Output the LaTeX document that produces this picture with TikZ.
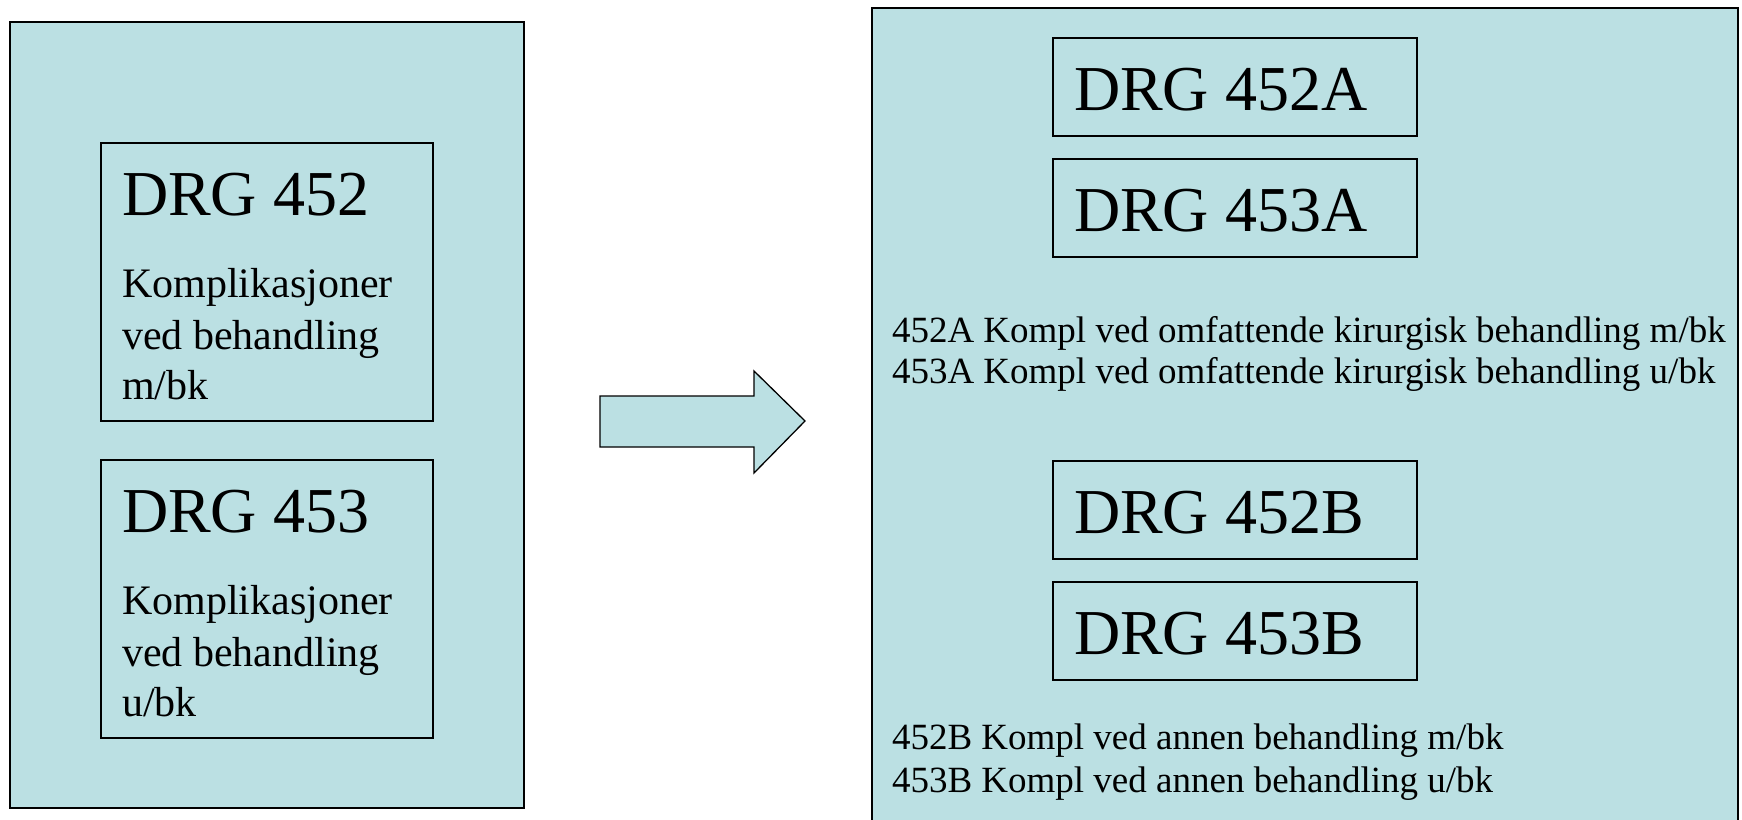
\documentclass[tikz,border=0pt]{standalone}
\usepackage{fontspec}
\setmainfont{Liberation Serif}
\definecolor{boxfill}{RGB}{187,224,227}
\tikzset{
  panel/.style={draw=black, fill=boxfill, line width=1.5pt, inner sep=0pt, outer sep=0pt, anchor=north west},
  drgbox/.style={draw=black, fill=boxfill, line width=1.3pt, inner sep=0pt, outer sep=0pt, anchor=north west},
  drgtext/.style={font=\fontsize{64}{64}\selectfont, inner sep=0pt, outer sep=0pt, anchor=base west},
  desctext/.style={font=\fontsize{42}{42}\selectfont, inner sep=0pt, outer sep=0pt, anchor=base west},
  notetext/.style={font=\fontsize{37}{37}\selectfont, inner sep=0pt, outer sep=0pt, anchor=base west},
  arrowshape/.style={draw=black, fill=boxfill, line width=1.3pt, line join=miter}
}
\begin{document}
\begin{tikzpicture}[x=1pt,y=-1pt]
\useasboundingbox (0,0) rectangle (1742,819);
% left panel
\node[panel, minimum width=514pt, minimum height=786pt] (left) at (10,22) {};
\node[drgbox, minimum width=332pt, minimum height=278pt] (b452) at (101,143) {};
\node[drgbox, minimum width=332pt, minimum height=278pt] (b453) at (101,460) {};
\node[drgtext] (t452) at (122,215) {DRG 452};
\node[desctext] (d452a) at (122,297) {Komplikasjoner};
\node[desctext] (d452b) at (122,349) {ved behandling};
\node[desctext] (d452c) at (122,399) {m/bk};
\node[drgtext] (t453) at (122,532) {DRG 453};
\node[desctext] (d453a) at (122,614) {Komplikasjoner};
\node[desctext] (d453b) at (122,666) {ved behandling};
\node[desctext] (d453c) at (122,716) {u/bk};
% arrow
\coordinate (a1) at (600,396);
\coordinate (a2) at (754,396);
\coordinate (a3) at (754,371);
\coordinate (a4) at (805,421);
\coordinate (a5) at (754,473);
\coordinate (a6) at (754,447);
\coordinate (a7) at (600,447);
\draw[arrowshape] (a1) -- (a2) -- (a3) -- (a4) -- (a5) -- (a6) -- (a7) -- cycle;
% right panel
\node[panel, minimum width=866pt, minimum height=830pt] (right) at (872,8) {};
\node[drgbox, minimum width=364pt, minimum height=98pt] (b452A) at (1053,38) {};
\node[drgbox, minimum width=364pt, minimum height=98pt] (b453A) at (1053,159) {};
\node[drgbox, minimum width=364pt, minimum height=98pt] (b452B) at (1053,461) {};
\node[drgbox, minimum width=364pt, minimum height=98pt] (b453B) at (1053,582) {};
\node[drgtext] (t452A) at (1074,110) {DRG 452A};
\node[drgtext] (t453A) at (1074,231) {DRG 453A};
\node[drgtext] (t452B) at (1074,533) {DRG 452B};
\node[drgtext] (t453B) at (1074,654) {DRG 453B};
\node[notetext] (n452A) at (892,342) {452A Kompl ved omfattende kirurgisk behandling m/bk};
\node[notetext] (n453A) at (892,383) {453A Kompl ved omfattende kirurgisk behandling u/bk};
\node[notetext] (n452B) at (892,749) {452B Kompl ved annen behandling m/bk};
\node[notetext] (n453B) at (892,792) {453B Kompl ved annen behandling u/bk};
\end{tikzpicture}
\end{document}
